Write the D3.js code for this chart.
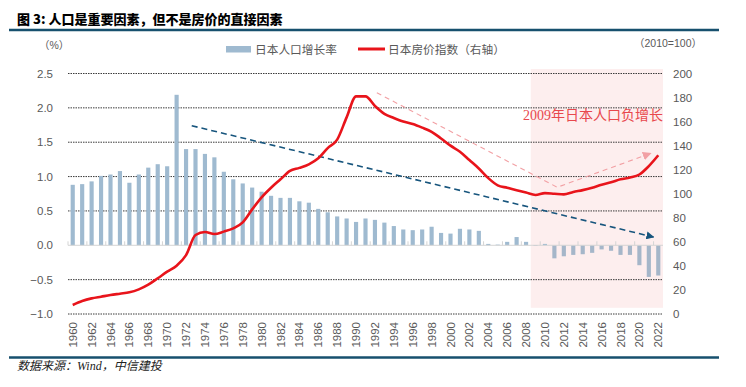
<!DOCTYPE html>
<html>
<head>
<meta charset="utf-8">
<script src="https://cdn.jsdelivr.net/npm/d3@7"></script>
<style>
  body { margin: 0; background: #fff; }
  svg { display: block; font-family: "Liberation Sans", Arial, "Noto Sans CJK SC", sans-serif; }
</style>
</head>
<body>
<script>
/* Japan population growth vs house price index */

const years = d3.range(1960, 2023);

// population growth, %
const popGrowth = [
  0.88, 0.89, 0.93, 1.01, 1.03, 1.08, 0.91, 1.03, 1.13, 1.18,
  1.15, 2.19, 1.40, 1.40, 1.33, 1.28, 1.07, 0.96, 0.90, 0.84,
  0.78, 0.72, 0.69, 0.69, 0.64, 0.62, 0.53, 0.48, 0.42, 0.39,
  0.34, 0.39, 0.37, 0.33, 0.28, 0.23, 0.22, 0.23, 0.27, 0.18,
  0.17, 0.24, 0.23, 0.21, 0.02, 0.01, 0.05, 0.12, 0.05, -0.01,
  0.02, -0.19, -0.16, -0.14, -0.13, -0.11, -0.06, -0.08, -0.14, -0.14,
  -0.29, -0.46, -0.44
];

// house price index, 2010=100 (right axis)
const housePrice = [
  7.5, 10.8, 13, 14.4, 15.8, 16.9, 18, 20.5, 24.4, 29.7,
  35.2, 40.2, 49, 65.7, 68.2, 66.5, 68.5, 71.2, 76.2, 87,
  97, 105, 112, 119, 121.5, 124.5, 129.5, 138, 145, 163.5,
  181, 181, 173, 166.5, 163, 160, 158, 155, 151.5, 146,
  140, 135, 128, 121, 113, 107, 105, 103, 101, 99,
  100.5, 100, 99.5, 101.5, 103, 105, 107.5, 109.5, 112, 113.5,
  116, 123, 132
];

const leftTicks = [-1.0, -0.5, 0.0, 0.5, 1.0, 1.5, 2.0, 2.5];
const rightTicks = [0, 20, 40, 60, 80, 100, 120, 140, 160, 180, 200];

// annotation arrows (year, value)
const trendPop = [[1972.6, 1.74], [2021.5, 0.12]];          // left axis
const trendPrice = [[1992.2, 184], [2011.3, 105.4], [2021.2, 133.6]]; // right axis

/* Chart size */

const w = 746, h = 387;
const plotLeft = 68, plotRight = 663, plotTop = 73.5, plotBottom = 314;

const svg = d3.select("body").append("svg")
  .attr("width", w)
  .attr("height", h);

const defs = svg.append("defs");
defs.append("marker")
  .attr("id", "arrowBlue")
  .attr("viewBox", "0 0 10 10")
  .attr("refX", 9).attr("refY", 5)
  .attr("markerWidth", 5).attr("markerHeight", 5)
  .attr("markerUnits", "strokeWidth")
  .attr("orient", "auto")
  .append("path").attr("d", "M0,0 L10,5 L0,10 z").attr("fill", "#17557d");
defs.append("marker")
  .attr("id", "arrowPink")
  .attr("viewBox", "0 0 10 10")
  .attr("refX", 9).attr("refY", 5)
  .attr("markerWidth", 8).attr("markerHeight", 8)
  .attr("markerUnits", "strokeWidth")
  .attr("orient", "auto")
  .append("path").attr("d", "M0,0 L10,5 L0,10 z").attr("fill", "#f2a0a4");

/* Scales */

const x = d3.scaleBand().domain(years).range([plotLeft, plotRight]).paddingInner(0.56).paddingOuter(0.28);
const yL = d3.scaleLinear().domain([-1, 2.5]).range([plotBottom, plotTop]);
const yR = d3.scaleLinear().domain([0, 200]).range([plotBottom, plotTop]);
const step = x.step();
const gap = (step - x.bandwidth()) / 2;
const cx = yr => x(Math.floor(yr)) + x.bandwidth() / 2 + (yr - Math.floor(yr)) * step;

/* Title and frame lines */

svg.append("text")
  .attr("x", 17).attr("y", 24)
  .attr("font-family", "'Noto Sans CJK SC', sans-serif")
  .attr("font-weight", 900)
  .attr("font-size", 13)
  .attr("fill", "#000")
  .text("图 3: 人口是重要因素，但不是房价的直接因素");

svg.append("line").attr("x1", 9).attr("x2", 719).attr("y1", 30).attr("y2", 30)
  .attr("stroke", "#17506e").attr("stroke-width", 2.5);
svg.append("line").attr("x1", 9).attr("x2", 719).attr("y1", 357.5).attr("y2", 357.5)
  .attr("stroke", "#17506e").attr("stroke-width", 2.5);

svg.append("text")
  .attr("x", 17).attr("y", 370)
  .attr("font-family", "'Liberation Serif', 'Noto Sans CJK SC', serif")
  .attr("font-style", "italic")
  .attr("font-size", 12)
  .attr("fill", "#222")
  .text("数据来源：Wind，中信建投");

/* Shaded region after 2009 */

svg.append("rect")
  .attr("x", x(2009) - gap)
  .attr("y", yL(2.565))
  .attr("width", plotRight - (x(2009) - gap))
  .attr("height", yL(-0.91) - yL(2.565))
  .attr("fill", "#fdeeee");

/* Grid */

svg.append("g").selectAll("line")
  .data(leftTicks.filter(d => d !== 0))
  .enter().append("line")
  .attr("x1", plotLeft).attr("x2", plotRight)
  .attr("y1", d => yL(d)).attr("y2", d => yL(d))
  .attr("stroke", "#3a3a3a")
  .attr("stroke-width", 1)
  .attr("stroke-dasharray", "1.5,1");

/* Axes */

const axisL = svg.append("g")
  .attr("transform", "translate(" + (plotLeft - 15) + ",0)")
  .call(d3.axisLeft(yL).tickValues(leftTicks).tickFormat(d3.format(".1f")).tickSize(0).tickPadding(0));
axisL.select(".domain").remove();
axisL.selectAll("text").attr("font-size", 11.5).attr("fill", "#595959")
  .attr("font-family", "'Liberation Sans', Arial, sans-serif");

const axisR = svg.append("g")
  .attr("transform", "translate(" + (plotRight + 10) + ",0)")
  .call(d3.axisRight(yR).tickValues(rightTicks).tickSize(0).tickPadding(0));
axisR.select(".domain").remove();
axisR.selectAll("text").attr("font-size", 11.5).attr("fill", "#595959")
  .attr("font-family", "'Liberation Sans', Arial, sans-serif");

const axisX = svg.append("g")
  .attr("transform", "translate(0," + 322 + ")")
  .call(d3.axisBottom(x).tickValues(years.filter(d => d % 2 === 0)).tickSize(0).tickPadding(0));
axisX.select(".domain").remove();
axisX.selectAll("text")
  .attr("font-size", 11.5).attr("fill", "#595959")
  .attr("font-family", "'Liberation Sans', Arial, sans-serif")
  .attr("transform", "rotate(-90)")
  .attr("text-anchor", "end")
  .attr("x", 0).attr("y", 0).attr("dy", "0.35em");

svg.append("text").attr("x", 39).attr("y", 49)
  .attr("font-size", 10.5).attr("fill", "#595959").text("（%）");
svg.append("text").attr("x", 634).attr("y", 47)
  .attr("font-size", 10.5).attr("fill", "#595959").text("（2010=100）");

/* Bars */

svg.append("g").selectAll("rect")
  .data(popGrowth)
  .enter().append("rect")
  .attr("x", (d, i) => x(years[i]))
  .attr("y", d => yL(Math.max(0, d)))
  .attr("width", x.bandwidth())
  .attr("height", d => Math.abs(yL(d) - yL(0)))
  .attr("fill", d => d < 0 ? "#a5b6c9" : "#9fbad0");

/* Zero line with ticks */

svg.append("line").attr("x1", plotLeft).attr("x2", plotRight)
  .attr("y1", yL(0)).attr("y2", yL(0))
  .attr("stroke", "#d4d4d4").attr("stroke-width", 1);
svg.append("g").selectAll("line")
  .data(years.filter(d => d % 2 === 0))
  .enter().append("line")
  .attr("x1", d => x(d) - gap)
  .attr("x2", d => x(d) - gap)
  .attr("y1", yL(0)).attr("y2", yL(0) - 4)
  .attr("stroke", "#d4d4d4");

/* Trend arrows */

svg.append("path")
  .datum(trendPop)
  .attr("d", d3.line().x(d => cx(d[0])).y(d => yL(d[1])))
  .attr("fill", "none")
  .attr("stroke", "#17557d")
  .attr("stroke-width", 1.6)
  .attr("stroke-dasharray", "6,4")
  .attr("marker-end", "url(#arrowBlue)");

svg.append("path")
  .datum(trendPrice)
  .attr("d", d3.line().x(d => cx(d[0])).y(d => yR(d[1])))
  .attr("fill", "none")
  .attr("stroke", "#f2a0a4")
  .attr("stroke-width", 1.1)
  .attr("stroke-dasharray", "5,4")
  .attr("marker-end", "url(#arrowPink)");

/* House price line */

svg.append("path")
  .datum(housePrice)
  .attr("d", d3.line()
    .x((d, i) => x(years[i]) + x.bandwidth() / 2)
    .y(d => yR(d))
    .curve(d3.curveMonotoneX))
  .attr("fill", "none")
  .attr("stroke", "#e8141b")
  .attr("stroke-width", 2.6)
  .attr("stroke-linejoin", "round");

/* Annotation */

svg.append("text")
  .attr("x", plotRight).attr("y", 120)
  .attr("text-anchor", "end")
  .attr("font-family", "'Liberation Serif', 'Noto Sans CJK SC', serif")
  .attr("font-size", 14)
  .attr("fill", "#e8484d")
  .text("2009年日本人口负增长");

/* Legend */

const legend = svg.append("g").attr("id", "legend");
legend.append("rect").attr("x", 226).attr("y", 46).attr("width", 25).attr("height", 6.5).attr("fill", "#9fbad0");
legend.append("text").attr("x", 255).attr("y", 53.5)
  .attr("font-family", "'Noto Sans CJK SC', sans-serif")
  .attr("font-size", 11.7).attr("fill", "#595959").text("日本人口增长率");
legend.append("line").attr("x1", 358).attr("x2", 385).attr("y1", 49).attr("y2", 49)
  .attr("stroke", "#e8141b").attr("stroke-width", 3);
legend.append("text").attr("x", 388).attr("y", 53.5)
  .attr("font-family", "'Noto Sans CJK SC', sans-serif")
  .attr("font-size", 11.7).attr("fill", "#595959").text("日本房价指数（右轴）");
</script>
</body>
</html>
